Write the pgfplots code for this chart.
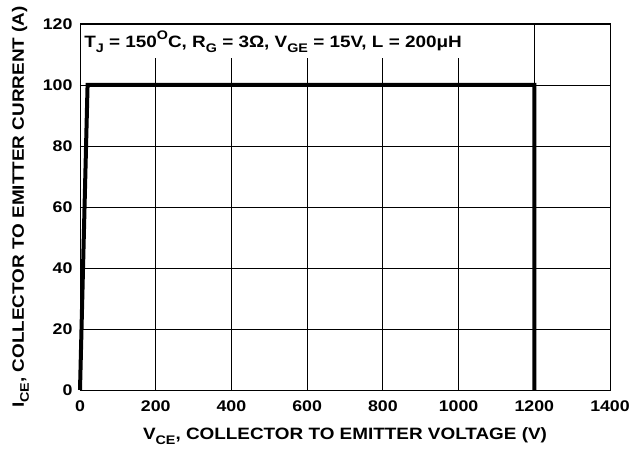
\documentclass[border=0pt]{standalone}
\usepackage{pgfplots}
\pgfplotsset{compat=1.18}
\usepackage{fontspec}
\setmainfont{Liberation Sans}[FakeStretch=1.15]
\newcommand\sub[1]{\raisebox{-0.3em}{\fontsize{12.5}{13}\selectfont #1}}
\newcommand\super[1]{\raisebox{0.45em}{\fontsize{12.5}{13}\selectfont #1}}
\begin{document}
\begin{tikzpicture}
\begin{axis}[
  scale only axis,
  width=530bp, height=366bp,
  xmin=0, xmax=1400, ymin=0, ymax=120,
  xtick={0,200,...,1400}, ytick={0,20,...,120},
  grid=major,
  major grid style={black, line width=0.8pt},
  axis line style={black, line width=1pt},
  major tick length=0pt,
  /pgf/number format/assume math mode=true,
  /pgf/number format/1000 sep={},
  tick label style={font=\bfseries\fontsize{15.5}{17}\selectfont},
  xticklabel style={yshift=-7bp},
  yticklabel style={xshift=-4bp},
  xlabel={V\sub{CE}, COLLECTOR TO EMITTER VOLTAGE (V)},
  ylabel={I\sub{CE}, COLLECTOR TO EMITTER CURRENT (A)},
  label style={font=\bfseries\fontsize{16.5}{18}\selectfont},
  xlabel style={yshift=-9bp},
  ylabel style={yshift=7bp},
  clip=false,
]
\coordinate (sw) at (rel axis cs:0,0);
\coordinate (ne) at (rel axis cs:1,1);
\node[anchor=north west, fill=white, inner xsep=3bp, inner ysep=0pt, minimum height=33bp,
  font=\bfseries\fontsize{16.5}{18}\selectfont] at (axis cs:3,119.7)
  {T\sub{J} = 150\super{O}C, R\sub{G} = 3Ω, V\sub{GE} = 15V, L = 200μH};
\addplot[black, line width=4bp, line join=miter] coordinates {(0,0) (20,100) (1200,100) (1200,0)};
\end{axis}
\pgfresetboundingbox
\path ([xshift=-80bp,yshift=-63bp]sw) rectangle ([xshift=34bp,yshift=24bp]ne);
\end{tikzpicture}
\end{document}
